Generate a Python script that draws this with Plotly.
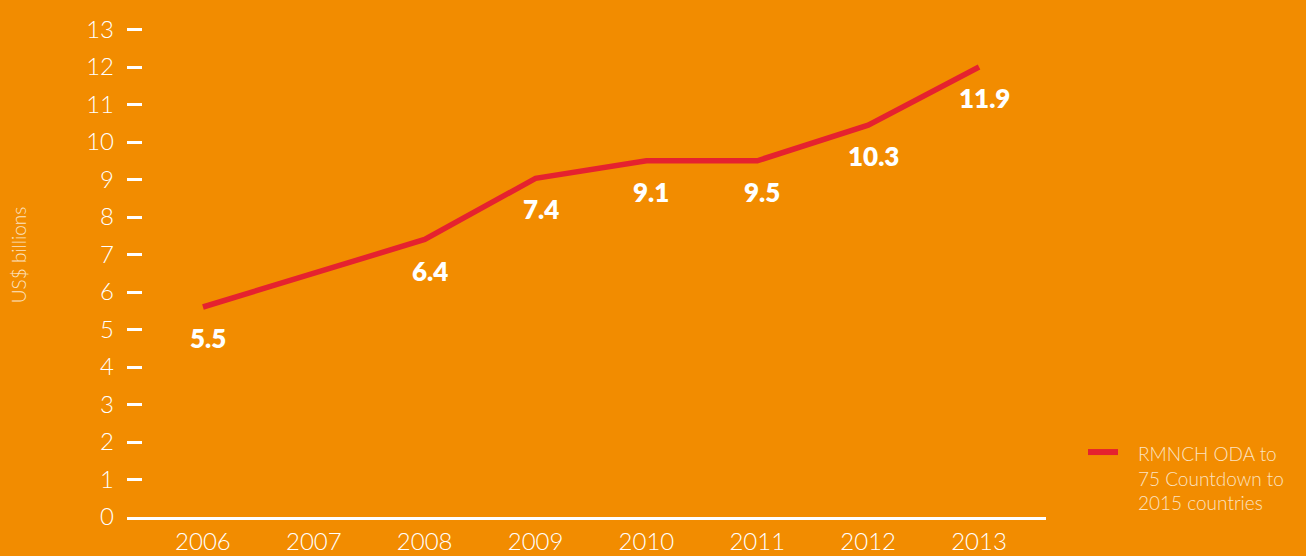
import plotly.graph_objects as go

years = [2006, 2007, 2008, 2009, 2010, 2011, 2012, 2013]
oda_values = [5.6, 6.5, 7.4, 9.03, 9.5, 9.5, 10.45, 12.0]
point_labels = ["5.5", "", "6.4", "7.4", "9.1", "9.5", "10.3", "11.9"]
y_ticks = list(range(0, 14))
series_name = "RMNCH ODA to<br>75 Countdown to<br>2015 countries"

BG = "#F28C00"
RED = "#E5222F"
WHITE = "#FFFFFF"
SOFT = "#FCE3C2"

W, H = 1306, 556
ML, MR, MT, MB = 127, 260, 21.5, 39
PW, PH = W - ML - MR, H - MT - MB


def px_to_paper(x, y):
    return (x - ML) / PW, (H - MB - y) / PH


fig = go.Figure()
fig.add_trace(go.Scatter(
    x=years, y=oda_values, mode="lines", name=series_name,
    line=dict(color=RED, width=5.5), showlegend=False,
))

for yr, v, lab in zip(years, oda_values, point_labels):
    if lab:
        fig.add_annotation(
            x=yr, y=v, text=lab, showarrow=False,
            xshift=5, yshift=-31,
            font=dict(family="Lato", size=26, color=WHITE, weight=800),
        )

# y-axis title
tx, ty = px_to_paper(18, 255)
fig.add_annotation(
    xref="paper", yref="paper", x=tx, y=ty, xanchor="center", yanchor="middle",
    text="US$ billions", textangle=-90, showarrow=False,
    font=dict(family="Lato", size=19, color=SOFT, weight=300),
)

# legend (line swatch + text)
lx0, ly = px_to_paper(1088, 452)
lx1, _ = px_to_paper(1118, 452)
fig.add_shape(type="line", xref="paper", yref="paper", x0=lx0, x1=lx1, y0=ly, y1=ly,
              line=dict(color=RED, width=6))
ax, ay = px_to_paper(1136, 440)
fig.add_annotation(
    xref="paper", yref="paper", x=ax, y=ay, xanchor="left", yanchor="top",
    text=series_name, showarrow=False, align="left",
    font=dict(family="Lato", size=19, color=SOFT, weight=300),
)

fig.update_layout(
    width=W, height=H,
    paper_bgcolor=BG, plot_bgcolor=BG,
    margin=dict(l=ML, r=MR, t=MT, b=MB),
    showlegend=False,
    xaxis=dict(
        range=[2005.315, 2013.604],
        tickvals=years, ticktext=[str(y) for y in years],
        showgrid=False, zeroline=False, automargin=False,
        showline=True, linecolor=WHITE, linewidth=2.5,
        ticks="", ticklabelstandoff=1,
        tickfont=dict(family="Lato", size=24, color=WHITE, weight=300),
    ),
    yaxis=dict(
        range=[0, 13.2],
        tickvals=y_ticks, automargin=False,
        showgrid=False, zeroline=False, showline=False,
        ticks="inside", ticklen=15, tickwidth=2.5, tickcolor=WHITE,
        ticklabelstandoff=12,
        tickfont=dict(family="Lato", size=24, color=WHITE, weight=300),
    ),
)

fig.write_html("out.html", config={"displayModeBar": False})

with open("out.html", "r", encoding="utf-8") as f:
    html = f.read()
html = html.replace("<head>", "<head><style>html,body{margin:0;padding:0;overflow:hidden;}</style>", 1)
with open("out.html", "w", encoding="utf-8") as f:
    f.write(html)
